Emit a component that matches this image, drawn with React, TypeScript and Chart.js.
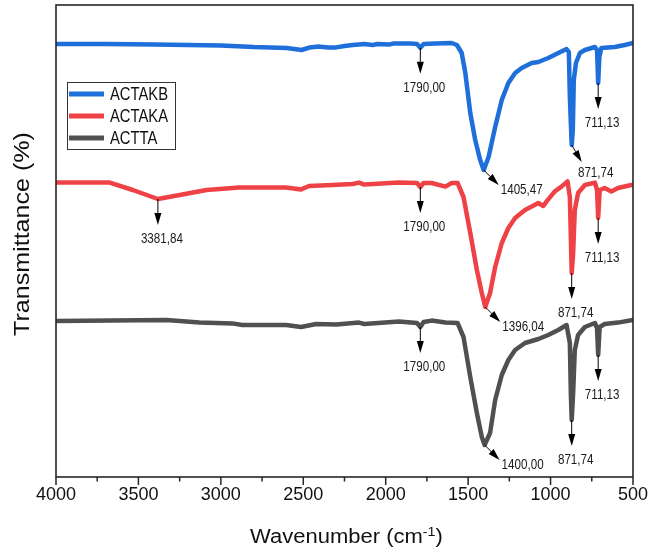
import React, { useEffect, useRef } from 'react';
import { Chart, registerables } from 'chart.js';

Chart.register(...registerables);

const FONT = '"Liberation Sans", Arial, Helvetica, sans-serif';

const seriesNames = ['ACTAKB', 'ACTAKA', 'ACTTA'];
const seriesColors = ['#1f6fdb', '#ef4246', '#505050'];

const actakbWn = [4000, 3700, 3400, 3000, 2800, 2700, 2600, 2510, 2460, 2410, 2350, 2300, 2250, 2200, 2129, 2080, 2050, 1980, 1950, 1850, 1810, 1790, 1770, 1700, 1600, 1568, 1539, 1517, 1487, 1457, 1427, 1405.47, 1376, 1336, 1296, 1256, 1215, 1175, 1115, 1074, 1014, 953, 903, 889, 883, 871.74, 865, 859, 846, 822, 792, 731, 718, 711.13, 704, 692, 611, 550, 500];
const actakbT = [108.25, 108.25, 108.1, 107.9, 107.5, 107.4, 107.25, 106.75, 107.4, 107.6, 107.4, 107.4, 107.75, 108, 108.25, 108, 108.25, 108.1, 108.4, 108.4, 108.25, 107.3, 108.25, 108.4, 108.5, 108, 106, 101, 91, 84.25, 79.25, 76.75, 80, 87.5, 94.25, 98.5, 101, 102.25, 103.5, 103.75, 104.75, 106, 107, 106.25, 95, 83, 86.75, 99.25, 103.5, 106, 106.75, 107.5, 106.75, 98.5, 105, 107.25, 107.5, 108, 108.5];

const actakaWn = [4000, 3674, 3534, 3381.84, 3250, 3087, 2888, 2604, 2513, 2465, 2325, 2200, 2162, 2130, 1920, 1810, 1790, 1770, 1721, 1638, 1600, 1564, 1528, 1487, 1447, 1417, 1396.04, 1367, 1336, 1296, 1256, 1215, 1155, 1074, 1044, 1024, 974, 934, 897, 883, 877, 871.74, 863, 853, 833, 792, 731, 718, 711.13, 702, 672, 631, 591, 510, 500];
const actakaT = [73.6, 73.6, 71.75, 69.5, 70.5, 71.75, 72.4, 72.4, 71.9, 72.75, 73, 73.25, 73.6, 73.1, 73.6, 73.5, 72.5, 73.5, 73.5, 72.6, 73.5, 73.5, 70, 61, 51.75, 46, 42.5, 46, 52.5, 58.5, 62.25, 64.75, 66.75, 68.5, 67.75, 68.9, 71.4, 72.6, 73.9, 70, 60, 51, 56, 66.75, 71, 73, 73.6, 71.75, 64.75, 71.75, 72.25, 71.4, 72.25, 73, 73];

const acttaWn = [4000, 3331, 3130, 2930, 2870, 2604, 2513, 2422, 2300, 2162, 2130, 1920, 1810, 1790, 1770, 1721, 1638, 1564, 1528, 1487, 1447, 1417, 1400, 1367, 1336, 1296, 1256, 1215, 1155, 1074, 1014, 953, 903, 883, 877, 871.74, 863, 853, 833, 792, 731, 718, 711.13, 702, 672, 591, 500];
const acttaT = [39, 39.25, 38.6, 38.4, 38, 38, 37.5, 38.25, 38.1, 38.6, 38.25, 38.9, 38.5, 37.5, 38.75, 39.1, 38.6, 38.5, 35, 25, 16, 10, 8, 11, 19.25, 25.5, 29.25, 31.75, 33.5, 34.5, 35.5, 36.75, 38, 33.5, 21, 14.25, 21, 31.75, 35.5, 37.5, 38.5, 37.25, 30.5, 37.5, 38.25, 38.6, 39.25];

const peakSeries = [0, 0, 0, 0, 1, 1, 1, 1, 1, 2, 2, 2, 2];
const peakWn = [1790, 1405.47, 871.74, 711.13, 3381.84, 1790, 1396.04, 871.74, 711.13, 1790, 1400, 871.74, 711.13];
const peakLabels = ['1790,00', '1405,47', '871,74', '711,13', '3381,84', '1790,00', '1396,04', '871,74', '711,13', '1790,00', '1400,00', '871,74', '711,13'];
const peakArrow = ['down', 'diag', 'diagShort', 'down', 'down', 'down', 'diag', 'down', 'down', 'down', 'diag', 'down', 'down'];

const xTitle = 'Wavenumber (cm';
const xTitleSup = '-1';
const yTitle = 'Transmittance (%)';

function drawText(ctx: CanvasRenderingContext2D, text: string, x: number, y: number, size: number, sx: number, align: string, baseline: CanvasTextBaseline, color: string) {
  ctx.save();
  ctx.font = `${size}px ${FONT}`;
  ctx.fillStyle = color;
  ctx.textBaseline = baseline;
  ctx.textAlign = 'left';
  const w = ctx.measureText(text).width * sx;
  let x0 = x;
  if (align === 'center') x0 = x - w / 2;
  else if (align === 'right') x0 = x - w;
  ctx.translate(x0, y);
  ctx.scale(sx, 1);
  ctx.fillText(text, 0, 0);
  ctx.restore();
  return w;
}

function arrow(ctx: CanvasRenderingContext2D, x1: number, y1: number, x2: number, y2: number) {
  const ang = Math.atan2(y2 - y1, x2 - x1);
  const hl = 12;
  const hw = 3.5;
  const bx = x2 - hl * Math.cos(ang);
  const by = y2 - hl * Math.sin(ang);
  ctx.beginPath();
  ctx.moveTo(x1, y1);
  ctx.lineTo(bx, by);
  ctx.stroke();
  ctx.beginPath();
  ctx.moveTo(x2, y2);
  ctx.lineTo(bx + hw * Math.sin(ang), by - hw * Math.cos(ang));
  ctx.lineTo(bx - hw * Math.sin(ang), by + hw * Math.cos(ang));
  ctx.closePath();
  ctx.fill();
}

const decorPlugin = {
  id: 'decor',
  afterDatasetsDraw(chart: any) {
    const { ctx, chartArea: a, scales } = chart;
    const x = scales.x;
    const y = scales.y;
    ctx.save();
    // frame
    ctx.strokeStyle = '#262626';
    ctx.lineWidth = 1.6;
    ctx.strokeRect(a.left, a.top, a.right - a.left, a.bottom - a.top);
    // ticks (major + minor)
    const majors = x.ticks.map((t: any) => t.value);
    ctx.lineWidth = 1.5;
    majors.forEach((v: number, i: number) => {
      const px = x.getPixelForValue(v);
      ctx.beginPath();
      ctx.moveTo(px, a.bottom);
      ctx.lineTo(px, a.bottom + 8);
      ctx.stroke();
      if (i < majors.length - 1) {
        const m = (v + majors[i + 1]) / 2;
        const pm = x.getPixelForValue(m);
        ctx.beginPath();
        ctx.moveTo(pm, a.bottom);
        ctx.lineTo(pm, a.bottom + 4.5);
        ctx.stroke();
      }
    });
    // peak annotations
    ctx.strokeStyle = '#000';
    ctx.fillStyle = '#000';
    ctx.lineWidth = 1;
    peakWn.forEach((wn, i) => {
      const ds = chart.data.datasets[peakSeries[i]];
      const pt = ds.data.find((p: any) => p.x === wn);
      if (!pt) return;
      const sx = x.getPixelForValue(wn);
      const sy = y.getPixelForValue(pt.y);
      const kind = peakArrow[i];
      if (kind === 'down') {
        const ty = sy + 26;
        arrow(ctx, sx, sy, sx, ty);
        drawText(ctx, peakLabels[i], sx + 4, ty + 14, 14, 0.83, 'center', 'middle', '#1a1a1a');
      } else if (kind === 'diag') {
        const tx = sx + 15;
        const ty = sy + 15;
        arrow(ctx, sx, sy, tx, ty);
        drawText(ctx, peakLabels[i], tx + 2, ty + 5, 14, 0.83, 'left', 'middle', '#1a1a1a');
      } else {
        const tx = sx + 10;
        const ty = sy + 17;
        arrow(ctx, sx, sy, tx, ty);
        drawText(ctx, peakLabels[i], tx + 14, ty + 11, 14, 0.83, 'center', 'middle', '#1a1a1a');
      }
    });
    // legend
    ctx.strokeStyle = '#333';
    ctx.lineWidth = 1;
    ctx.strokeRect(67.5, 82.5, 108, 67);
    const rows = [94, 116, 138];
    chart.data.datasets.forEach((ds: any, i: number) => {
      ctx.strokeStyle = ds.borderColor;
      ctx.lineWidth = 5;
      ctx.lineCap = 'butt';
      ctx.beginPath();
      ctx.moveTo(69, rows[i]);
      ctx.lineTo(104, rows[i]);
      ctx.stroke();
      drawText(ctx, ds.label, 110, rows[i] + 1, 18.5, 0.8, 'left', 'middle', '#111');
    });
    ctx.restore();
  },
  afterDraw(chart: any) {
    const { ctx, chartArea: a } = chart;
    ctx.save();
    // x title with superscript
    const cx = (a.left + a.right) / 2 + 2;
    ctx.font = `20px ${FONT}`;
    const sx = 1.1;
    const w1 = ctx.measureText(xTitle).width * sx;
    ctx.font = `13px ${FONT}`;
    const w2 = ctx.measureText(xTitleSup).width * sx;
    ctx.font = `20px ${FONT}`;
    const w3 = ctx.measureText(')').width * sx;
    const total = w1 + w2 + w3;
    let xs = cx - total / 2;
    drawText(ctx, xTitle, xs, 543, 20, sx, 'left', 'alphabetic', '#111');
    xs += w1;
    drawText(ctx, xTitleSup, xs, 536, 13, sx, 'left', 'alphabetic', '#111');
    xs += w2;
    drawText(ctx, ')', xs, 543, 20, sx, 'left', 'alphabetic', '#111');
    // y title
    ctx.translate(28.5, 234);
    ctx.rotate(-Math.PI / 2);
    drawText(ctx, yTitle, 0, 0, 22, 1.14, 'center', 'alphabetic', '#111');
    ctx.restore();
  },
};

function toPoints(wn: number[], t: number[]) {
  return wn.map((w, i) => ({ x: w, y: t[i] }));
}

export default function App() {
  const ref = useRef<HTMLCanvasElement | null>(null);
  useEffect(() => {
    document.body.style.margin = '0';
    const canvas = ref.current;
    if (!canvas) return;
    const series = [toPoints(actakbWn, actakbT), toPoints(actakaWn, actakaT), toPoints(acttaWn, acttaT)];
    const chart = new Chart(canvas, {
      type: 'line',
      data: {
        datasets: series.map((d, i) => ({
          label: seriesNames[i],
          data: d,
          borderColor: seriesColors[i],
          backgroundColor: seriesColors[i],
          borderWidth: 4.5,
          pointRadius: 0,
          tension: 0,
          fill: false,
          borderJoinStyle: 'round',
          borderCapStyle: 'round',
        })),
      },
      options: {
        animation: false,
        responsive: false,
        devicePixelRatio: 1,
        parsing: true,
        layout: { padding: { left: 56, right: 20, top: 5, bottom: 0 } },
        plugins: { legend: { display: false }, tooltip: { enabled: false }, title: { display: false } },
        scales: {
          x: {
            type: 'linear',
            reverse: true,
            min: 500,
            max: 4000,
            grid: { display: false, drawTicks: false },
            border: { display: false },
            ticks: {
              stepSize: 500,
              padding: 7,
              maxRotation: 0,
              autoSkip: false,
              color: '#111',
              font: { family: FONT, size: 18 },
              callback: (v: any) => String(v),
            },
            afterFit: (s: any) => {
              s.height = 79;
            },
          },
          y: {
            type: 'linear',
            display: false,
            min: 0,
            max: 118,
          },
        },
      } as any,
      plugins: [decorPlugin],
    });
    return () => chart.destroy();
  }, []);
  return (
    <div style={{ width: 655, height: 556 }}>
      <canvas ref={ref} width={655} height={556} style={{ display: 'block' }} />
    </div>
  );
}
